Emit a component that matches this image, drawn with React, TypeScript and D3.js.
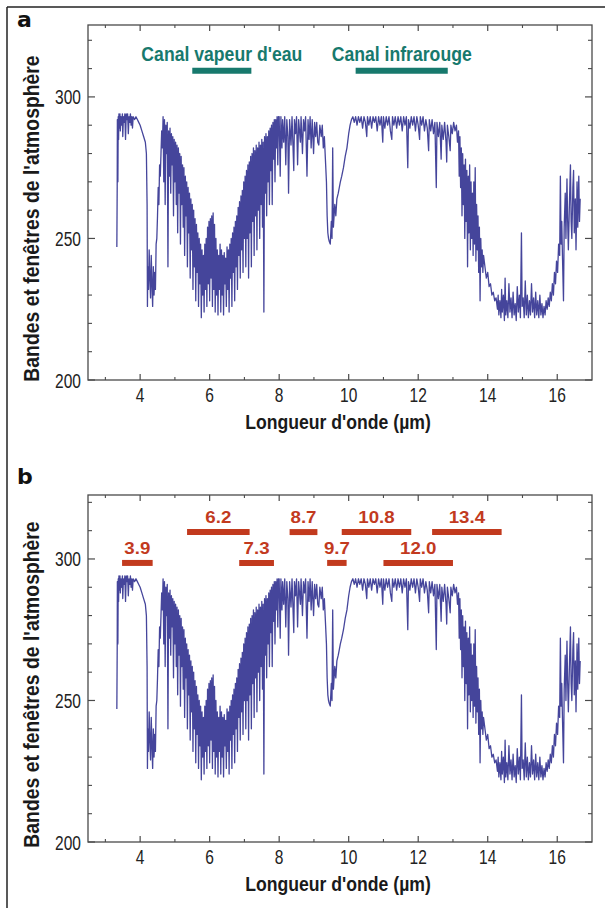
import React from 'react';
import * as d3 from 'd3';

type P = [number, number];

// Spectrum: [wavelength µm, brightness temperature K]
const shortwaveBand: P[] = [
  [3.33, 247], [3.34, 268], [3.345, 292], [3.36, 270], [3.37, 293], [3.38, 285], [3.39, 294], [3.4, 289],
  [3.42, 294], [3.43, 288], [3.45, 293], [3.47, 290], [3.49, 294], [3.5, 286], [3.52, 293], [3.54, 291],
  [3.56, 294], [3.58, 285], [3.6, 294], [3.62, 292], [3.64, 294], [3.66, 287], [3.68, 293], [3.7, 291],
  [3.72, 294], [3.74, 290], [3.76, 293], [3.78, 289], [3.8, 293], [3.84, 292], [3.88, 293], [3.92, 292],
  [3.96, 291], [4.0, 290], [4.05, 288], [4.1, 286], [4.15, 284], [4.18, 280], [4.2, 262], [4.21, 226],
  [4.22, 240], [4.24, 232], [4.26, 246], [4.28, 236], [4.3, 229], [4.32, 244], [4.34, 234], [4.36, 226],
  [4.38, 240], [4.4, 230], [4.42, 238], [4.44, 232], [4.46, 248], [4.48, 250], [4.5, 258], [4.52, 268],
  [4.54, 262], [4.56, 276], [4.58, 272], [4.6, 280], [4.62, 288], [4.64, 282],
];

const waterVapourBand: P[] = [
  [4.66, 293], [4.68, 270], [4.7, 292], [4.72, 262], [4.74, 290], [4.76, 280], [4.78, 291], [4.8, 240],
  [4.82, 288], [4.84, 272], [4.86, 289], [4.88, 266], [4.9, 287], [4.92, 276], [4.94, 286], [4.96, 258],
  [4.98, 285], [5.0, 270], [5.02, 284], [5.04, 262], [5.06, 283], [5.08, 252], [5.1, 282], [5.12, 266],
  [5.14, 280], [5.16, 248], [5.18, 279], [5.2, 262], [5.22, 276], [5.24, 254], [5.26, 275], [5.28, 244],
  [5.3, 272], [5.32, 258], [5.34, 270], [5.36, 240], [5.38, 268], [5.4, 252], [5.42, 266], [5.44, 236],
  [5.46, 264], [5.48, 246], [5.5, 262], [5.52, 232], [5.54, 260], [5.56, 240], [5.58, 257], [5.6, 228],
  [5.62, 255], [5.64, 238], [5.66, 252], [5.68, 226], [5.7, 250], [5.72, 234], [5.74, 248], [5.76, 222],
  [5.78, 246], [5.8, 230], [5.82, 244], [5.84, 224], [5.86, 248], [5.88, 232], [5.9, 250], [5.92, 226],
  [5.94, 254], [5.96, 234], [5.98, 256], [6.0, 228], [6.02, 257], [6.04, 236], [6.06, 258], [6.08, 226],
  [6.1, 259], [6.12, 232], [6.14, 255], [6.16, 224], [6.18, 250], [6.2, 230], [6.22, 246], [6.24, 223],
  [6.26, 244], [6.28, 232], [6.3, 248], [6.32, 224], [6.34, 246], [6.36, 230], [6.38, 244], [6.4, 223],
  [6.42, 245], [6.44, 234], [6.46, 243], [6.48, 226], [6.5, 247], [6.52, 232], [6.54, 246], [6.56, 224],
  [6.58, 248], [6.6, 236], [6.62, 250], [6.64, 226], [6.66, 252], [6.68, 238], [6.7, 254], [6.72, 228],
  [6.74, 256], [6.76, 240], [6.78, 258], [6.8, 232], [6.82, 261], [6.84, 244], [6.86, 263], [6.88, 236],
  [6.9, 265], [6.92, 246], [6.94, 267], [6.96, 238], [6.98, 270], [7.0, 250], [7.02, 272], [7.04, 240],
  [7.06, 274], [7.08, 250], [7.1, 276], [7.12, 236], [7.14, 277], [7.16, 252], [7.18, 279], [7.2, 240],
  [7.22, 280], [7.24, 256], [7.26, 282], [7.28, 244], [7.3, 281], [7.32, 258], [7.34, 283], [7.36, 246],
  [7.38, 282], [7.4, 260], [7.42, 284], [7.44, 250], [7.46, 283], [7.48, 262], [7.5, 285], [7.52, 254],
  [7.54, 284], [7.56, 224], [7.58, 286], [7.6, 266], [7.62, 287], [7.64, 258], [7.66, 286], [7.68, 270],
  [7.7, 288], [7.72, 262], [7.74, 289], [7.76, 274], [7.78, 290], [7.8, 262], [7.82, 291], [7.84, 278],
  [7.86, 292], [7.88, 270], [7.9, 292], [7.92, 282], [7.94, 293], [7.96, 276], [7.98, 293],
];

const window87Band: P[] = [
  [8.0, 293], [8.03, 272], [8.05, 293], [8.08, 282], [8.1, 292], [8.13, 284], [8.16, 293], [8.19, 276],
  [8.22, 292], [8.25, 286], [8.27, 266], [8.3, 292], [8.34, 283], [8.37, 293], [8.42, 274], [8.44, 292],
  [8.47, 287], [8.5, 293], [8.53, 276], [8.56, 292], [8.61, 284], [8.63, 293], [8.67, 280], [8.7, 292],
  [8.73, 288], [8.76, 293], [8.8, 272], [8.83, 292], [8.86, 285], [8.89, 293], [8.92, 282], [8.95, 292],
  [8.99, 280], [9.02, 291], [9.05, 286], [9.08, 291], [9.11, 284], [9.14, 283], [9.17, 290], [9.21, 286],
  [9.24, 290], [9.27, 282], [9.3, 286], [9.33, 278], [9.36, 270], [9.38, 258], [9.4, 252], [9.42, 250],
  [9.44, 249],
];

const ozoneBand: P[] = [
  [9.47, 248], [9.5, 256], [9.52, 250], [9.54, 282], [9.56, 254], [9.6, 262], [9.63, 258], [9.66, 264],
  [9.7, 266], [9.73, 268], [9.76, 270], [9.8, 272], [9.85, 275], [9.9, 279], [9.95, 282], [10.0, 287],
  [10.04, 290], [10.08, 292],
];

const infraredWindow: P[] = [
  [10.12, 293], [10.16, 291], [10.2, 293], [10.24, 290], [10.28, 293], [10.32, 291], [10.36, 293], [10.4, 289],
  [10.44, 293], [10.48, 291], [10.52, 286], [10.54, 293], [10.58, 290], [10.62, 293], [10.66, 289], [10.7, 293],
  [10.74, 291], [10.78, 293], [10.82, 288], [10.86, 293], [10.9, 290], [10.94, 293], [10.98, 284], [11.0, 293],
  [11.04, 289], [11.08, 293], [11.12, 290], [11.16, 293], [11.2, 288], [11.24, 285], [11.26, 293], [11.3, 290],
  [11.34, 293], [11.38, 289], [11.42, 293], [11.46, 290], [11.5, 293], [11.54, 288], [11.58, 293], [11.62, 290],
  [11.66, 293], [11.7, 275], [11.72, 292], [11.76, 289], [11.8, 293], [11.84, 290], [11.88, 293], [11.92, 288],
  [11.96, 293], [12.0, 290], [12.04, 285], [12.06, 293], [12.1, 290], [12.14, 293], [12.18, 288], [12.22, 292],
  [12.26, 289], [12.3, 281], [12.32, 292], [12.36, 288], [12.4, 292], [12.44, 287], [12.48, 291], [12.52, 268],
  [12.54, 291], [12.58, 286], [12.62, 291], [12.66, 278], [12.68, 290], [12.72, 285], [12.76, 291], [12.8, 284],
  [12.82, 277], [12.84, 290], [12.88, 286], [12.92, 281], [12.94, 290], [12.98, 287], [13.02, 291], [13.06, 288],
  [13.1, 290],
];

const co2Band: P[] = [
  [13.13, 284], [13.16, 288], [13.18, 272], [13.2, 286], [13.22, 268], [13.24, 282], [13.26, 258], [13.28, 280],
  [13.3, 262], [13.32, 276], [13.34, 250], [13.36, 278], [13.38, 256], [13.4, 274], [13.42, 240], [13.44, 272],
  [13.46, 252], [13.48, 276], [13.5, 246], [13.52, 270], [13.54, 250], [13.56, 266], [13.58, 244], [13.6, 270],
  [13.62, 248], [13.64, 275], [13.66, 242], [13.68, 262], [13.7, 246], [13.72, 258], [13.74, 238], [13.76, 254],
  [13.78, 228], [13.8, 250], [13.82, 240], [13.84, 246], [13.86, 238], [13.88, 244], [13.92, 240], [13.96, 236],
  [14.0, 238], [14.04, 233], [14.08, 234], [14.12, 230], [14.16, 231], [14.2, 228], [14.24, 229], [14.28, 225],
  [14.3, 230], [14.32, 223], [14.35, 228], [14.38, 222], [14.4, 232], [14.42, 224], [14.45, 230], [14.48, 221],
  [14.5, 236], [14.52, 223], [14.55, 228], [14.58, 222], [14.61, 234], [14.64, 224], [14.67, 229], [14.7, 222],
  [14.73, 231], [14.76, 223], [14.79, 227], [14.82, 221], [14.85, 233], [14.88, 224], [14.91, 230], [14.94, 222],
  [14.97, 252], [14.99, 226], [15.02, 229], [15.05, 222], [15.08, 235], [15.11, 223], [15.14, 230], [15.17, 222],
  [15.2, 228], [15.23, 223], [15.26, 234], [15.29, 224], [15.32, 229], [15.35, 222], [15.38, 231], [15.41, 223],
  [15.44, 228], [15.47, 222], [15.5, 230], [15.53, 223], [15.56, 227], [15.59, 222], [15.62, 226], [15.65, 223],
  [15.68, 228], [15.71, 225], [15.74, 229], [15.77, 226], [15.8, 231], [15.83, 228], [15.86, 234], [15.89, 230],
  [15.92, 238], [15.95, 234], [15.98, 242], [16.01, 238], [16.04, 248], [16.07, 244], [16.09, 272], [16.11, 248],
  [16.13, 256], [16.15, 244], [16.18, 228], [16.2, 254], [16.23, 266], [16.25, 250], [16.28, 271], [16.3, 256],
  [16.32, 246], [16.35, 262], [16.38, 276], [16.4, 256], [16.42, 250], [16.45, 268], [16.47, 274], [16.49, 252],
  [16.52, 264], [16.54, 246], [16.57, 270], [16.59, 254], [16.62, 272], [16.64, 256], [16.66, 264],
];

const spectrum: P[] = [
  ...shortwaveBand, ...waterVapourBand, ...window87Band, ...ozoneBand, ...infraredWindow, ...co2Band,
];

const xMajorTicks = [4, 6, 8, 10, 12, 14, 16];
const xMinorTicks = [3, 5, 7, 9, 11, 13, 15];
const yMajorTicks = [200, 250, 300];
const yMinorTicks = [210, 220, 230, 240, 260, 270, 280, 290, 310, 320];

const panelAChannels = [
  { label: "Canal vapeur d'eau", from: 5.5, to: 7.2 },
  { label: 'Canal infrarouge', from: 10.2, to: 12.85 },
];
const panelALevel = 309.2;

const panelBChannels = [
  { label: '3.9', from: 3.48, to: 4.36, row: 0 },
  { label: '6.2', from: 5.35, to: 7.15, row: 1 },
  { label: '7.3', from: 6.85, to: 7.85, row: 0 },
  { label: '8.7', from: 8.3, to: 9.1, row: 1 },
  { label: '9.7', from: 9.38, to: 9.94, row: 0 },
  { label: '10.8', from: 9.8, to: 11.8, row: 1 },
  { label: '12.0', from: 11.0, to: 13.0, row: 0 },
  { label: '13.4', from: 12.4, to: 14.4, row: 1 },
];
const panelBLevels = [298.6, 309.5];

const X_DOMAIN: [number, number] = [2.5, 17];
const FONT = "'Liberation Sans', Arial, Helvetica, sans-serif";
const AXIS = '#4a4a4a';
const TEAL = '#17796d';
const RED = '#c23a1e';
const LINE = '#24248a';

const yTitle = "Bandes et fenêtres de l'atmosphère";
const xTitle = "Longueur d'onde (µm)";

type PanelProps = {
  top: number;
  bottom: number;
  yMax: number;
  letter: string;
  letterY: number;
  children?: (y: d3.ScaleLinear<number, number>, x: d3.ScaleLinear<number, number>) => React.ReactNode;
};

function Panel({ top, bottom, yMax, letter, letterY, children }: PanelProps) {
  const left = 88;
  const right = 592;
  const x = d3.scaleLinear().domain(X_DOMAIN).range([left, right]);
  const y = d3.scaleLinear().domain([200, yMax]).range([bottom, top]);
  const line = d3
    .line<P>()
    .x((d) => x(d[0]))
    .y((d) => y(d[1]));
  const midY = (top + bottom) / 2 + 16;
  return (
    <g>
      <text x={17} y={letterY} fontFamily="'DejaVu Sans', sans-serif" fontWeight="bold" fontSize={22} fill="#111">
        {letter}
      </text>
      <rect x={left} y={top} width={right - left} height={bottom - top} fill="none" stroke={AXIS} strokeWidth={1.3} />
      {xMajorTicks.map((t) => (
        <g key={'xM' + t}>
          <line x1={x(t)} x2={x(t)} y1={bottom} y2={bottom - 6} stroke={AXIS} strokeWidth={1.2} />
          <line x1={x(t)} x2={x(t)} y1={top} y2={top + 6} stroke={AXIS} strokeWidth={1.2} />
          <text
            transform={`translate(${x(t)},${bottom + 22}) scale(0.74,1)`}
            textAnchor="middle"
            fontFamily={FONT}
            fontSize={21}
            fill="#222"
          >
            {t}
          </text>
        </g>
      ))}
      {xMinorTicks.map((t) => (
        <g key={'xm' + t}>
          <line x1={x(t)} x2={x(t)} y1={bottom} y2={bottom - 3} stroke={AXIS} strokeWidth={1.1} />
          <line x1={x(t)} x2={x(t)} y1={top} y2={top + 3} stroke={AXIS} strokeWidth={1.1} />
        </g>
      ))}
      {yMajorTicks.map((t) => (
        <g key={'yM' + t}>
          <line x1={left} x2={left + 7} y1={y(t)} y2={y(t)} stroke={AXIS} strokeWidth={1.2} />
          <line x1={right} x2={right - 7} y1={y(t)} y2={y(t)} stroke={AXIS} strokeWidth={1.2} />
          <text
            transform={`translate(81,${y(t) + 7.5}) scale(0.74,1)`}
            textAnchor="end"
            fontFamily={FONT}
            fontSize={21}
            fill="#222"
          >
            {t}
          </text>
        </g>
      ))}
      {yMinorTicks
        .filter((t) => t < yMax)
        .map((t) => (
          <g key={'ym' + t}>
            <line x1={left} x2={left + 4} y1={y(t)} y2={y(t)} stroke={AXIS} strokeWidth={1.1} />
            <line x1={right} x2={right - 4} y1={y(t)} y2={y(t)} stroke={AXIS} strokeWidth={1.1} />
          </g>
        ))}
      <path d={line(spectrum) || ''} fill="none" stroke={LINE} strokeWidth={1.3} strokeOpacity={0.85} strokeLinejoin="round" />
      {children && children(y, x)}
      <text
        transform={`translate(${(left + right) / 2 - 2},${bottom + 49}) scale(0.84,1)`}
        textAnchor="middle"
        fontFamily={FONT}
        fontWeight="bold"
        fontSize={21}
        fill="#1a1a1a"
      >
        {xTitle}
      </text>
      <text
        transform={`translate(39,${midY}) rotate(-90) scale(0.88,1)`}
        textAnchor="middle"
        fontFamily={FONT}
        fontWeight="bold"
        fontSize={22}
        fill="#1a1a1a"
      >
        {yTitle}
      </text>
    </g>
  );
}

export default function App() {
  return (
    <svg
      width={605}
      height={908}
      viewBox="0 0 605 908"
      style={{ position: 'absolute', left: 0, top: 0, display: 'block', background: '#ffffff' }}
    >
      <rect x={0} y={0} width={605} height={908} fill="#ffffff" />
      <line x1={7} x2={605} y1={7} y2={7} stroke="#222" strokeWidth={1.5} />
      <line x1={7} x2={7} y1={7} y2={908} stroke="#222" strokeWidth={1.5} />
      <Panel top={25} bottom={380} yMax={325.4} letter="a" letterY={27}>
        {(y, x) =>
          panelAChannels.map((c) => (
            <g key={c.label}>
              <line x1={x(c.from)} x2={x(c.to)} y1={y(panelALevel)} y2={y(panelALevel)} stroke={TEAL} strokeWidth={6} />
              <text
                transform={`translate(${(x(c.from) + x(c.to)) / 2},${y(panelALevel) - 10}) scale(0.84,1)`}
                textAnchor="middle"
                fontFamily={FONT}
                fontWeight="bold"
                fontSize={21}
                fill={TEAL}
              >
                {c.label}
              </text>
            </g>
          ))
        }
      </Panel>
      <Panel top={495} bottom={842} yMax={322.6} letter="b" letterY={484}>
        {(y, x) =>
          panelBChannels.map((c) => {
            const ly = y(panelBLevels[c.row]);
            return (
              <g key={c.label}>
                <line x1={x(c.from)} x2={x(c.to)} y1={ly} y2={ly} stroke={RED} strokeWidth={6} />
                <text
                  transform={`translate(${(x(c.from) + x(c.to)) / 2},${ly - 9}) scale(1.1,1)`}
                  textAnchor="middle"
                  fontFamily={FONT}
                  fontWeight="bold"
                  fontSize={17}
                  fill={RED}
                >
                  {c.label}
                </text>
              </g>
            );
          })
        }
      </Panel>
    </svg>
  );
}
